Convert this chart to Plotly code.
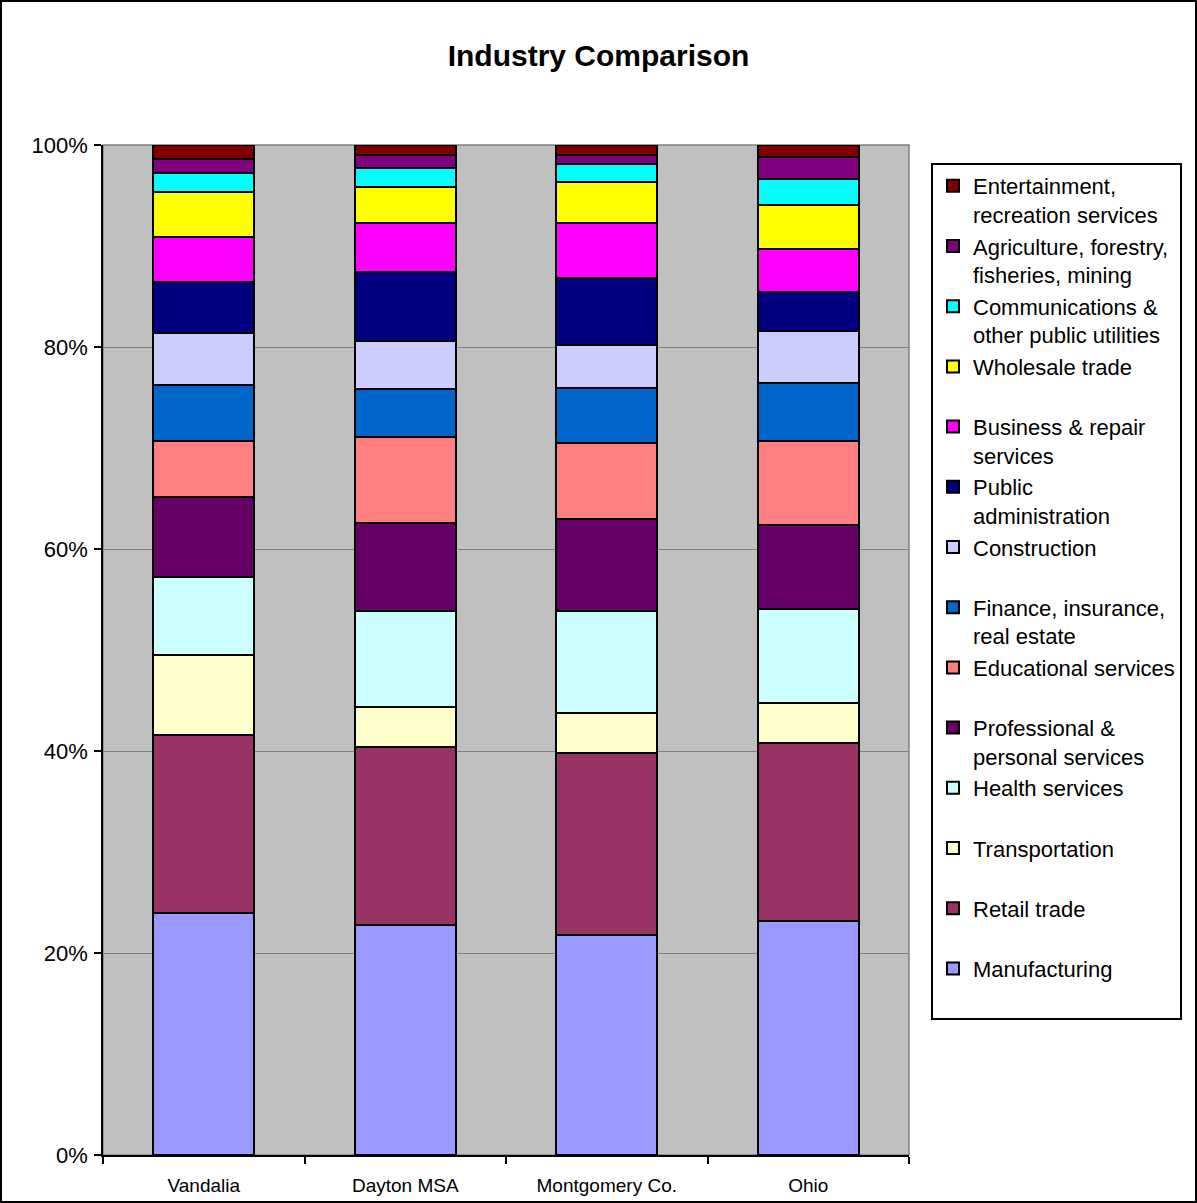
import plotly.graph_objects as go

categories = ["Vandalia", "Dayton MSA", "Montgomery Co.", "Ohio"]

# series in stacking order (bottom to top), values in percent
manufacturing = [24.0, 22.8, 21.8, 23.2]
retail_trade = [17.6, 17.6, 18.0, 17.6]
transportation = [7.9, 4.0, 4.0, 4.0]
health_services = [7.7, 9.5, 10.1, 9.3]
professional = [7.9, 8.7, 9.1, 8.3]
educational = [5.6, 8.5, 7.5, 8.3]
finance = [5.5, 4.7, 5.4, 5.7]
construction = [5.2, 4.8, 4.3, 5.2]
public_admin = [5.0, 6.8, 6.6, 3.8]
business_repair = [4.5, 4.9, 5.5, 4.3]
wholesale_trade = [4.4, 3.5, 4.0, 4.4]
communications = [1.9, 1.9, 1.8, 2.5]
agriculture = [1.4, 1.3, 0.9, 2.2]
entertainment = [1.4, 1.0, 1.0, 1.2]

series_names = [
    "Manufacturing", "Retail trade", "Transportation", "Health services",
    "Professional &<br>personal services", "Educational services",
    "Finance, insurance,<br>real estate", "Construction",
    "Public<br>administration", "Business & repair<br>services",
    "Wholesale trade", "Communications &<br>other public utilities",
    "Agriculture, forestry,<br>fisheries, mining",
    "Entertainment,<br>recreation services",
]
series_values = [
    manufacturing, retail_trade, transportation, health_services, professional,
    educational, finance, construction, public_admin, business_repair,
    wholesale_trade, communications, agriculture, entertainment,
]
series_colors = [
    "#9999FF", "#993366", "#FFFFCC", "#CCFFFF", "#660066", "#FF8080",
    "#0066CC", "#CCCCFF", "#000080", "#FF00FF", "#FFFF00", "#00FFFF",
    "#800080", "#800000",
]
y_ticks = [0, 20, 40, 60, 80, 100]
y_tick_labels = ["0%", "20%", "40%", "60%", "80%", "100%"]

FONT = "Liberation Sans, Arial, sans-serif"
W, H = 1197, 1203
ML, MR, MT, MB = 103, 288, 145, 48
PW, PH = W - ML - MR, H - MT - MB

fig = go.Figure()
for name, vals, col in zip(series_names, series_values, series_colors):
    label = name if "<br>" in name else name + "<br>\u00a0"
    fig.add_trace(go.Bar(
        x=categories, y=vals, name=label,
        marker=dict(color=col, line=dict(color="black", width=2)),
    ))

def px_x(p):
    return (p - ML) / PW

def px_y(p):
    return (H - MB - p) / PH

fig.update_layout(
    width=W, height=H,
    barmode="stack", bargap=0.5,
    paper_bgcolor="white", plot_bgcolor="#C0C0C0",
    margin=dict(l=ML, r=MR, t=MT, b=MB, autoexpand=False),
    font=dict(family=FONT, color="black"),
    title=dict(text="<b>Industry Comparison</b>", x=0.5, xref="container",
               xanchor="center", y=1 - 55 / H, yref="container",
               yanchor="middle",
               font=dict(size=30, family=FONT, color="black")),
    xaxis=dict(showgrid=False, showline=True, linecolor="black", linewidth=1.5,
               ticks="outside", tickson="boundaries", ticklen=7,
               tickcolor="black", tickwidth=1.5, ticklabelstandoff=12,
               automargin=False,
               tickfont=dict(size=19, family=FONT, color="black")),
    yaxis=dict(range=[0, 100], tickvals=y_ticks, ticktext=y_tick_labels,
               showgrid=True, gridcolor="#808080", gridwidth=1,
               showline=True, linecolor="black", linewidth=1.5,
               ticks="outside", ticklen=7, tickcolor="black", tickwidth=1.5,
               zeroline=False, ticklabelstandoff=2, automargin=False,
               tickfont=dict(size=22, family=FONT, color="black")),
    legend=dict(x=px_x(931), y=px_y(163), xanchor="left", yanchor="top",
                traceorder="reversed", valign="top",
                bgcolor="white", bordercolor="black", borderwidth=2,
                font=dict(size=22, family=FONT, color="black")),
    showlegend=True,
    shapes=[
        dict(type="rect", xref="paper", yref="paper", x0=0, x1=1, y0=0, y1=1,
             line=dict(color="#808080", width=1.5), fillcolor="rgba(0,0,0,0)",
             layer="below"),
        dict(type="rect", xref="paper", yref="paper",
             x0=px_x(1), x1=px_x(1196), y0=px_y(1202), y1=px_y(1),
             line=dict(color="black", width=2), fillcolor="rgba(0,0,0,0)"),
    ],
)

fig.write_html("out.html")
